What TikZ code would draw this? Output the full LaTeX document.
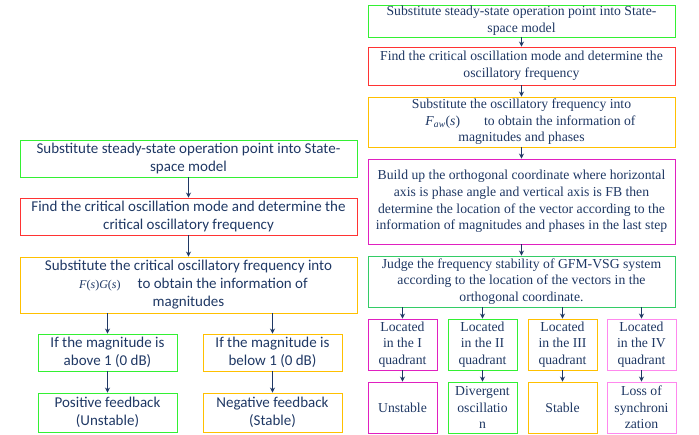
\documentclass[tikz,border=0pt]{standalone}
\usepackage{fontspec}
\setmainfont{Liberation Serif}
\newfontfamily\calib{Carlito}
\newfontfamily\tnr{Liberation Serif}
\usetikzlibrary{arrows.meta}
\definecolor{navy}{HTML}{1F3864}
\definecolor{cgreen}{HTML}{33F033}
\definecolor{cred}{HTML}{FF3333}
\definecolor{camber}{HTML}{FFC000}
\definecolor{cmag}{HTML}{E020C0}
\definecolor{cteal}{HTML}{33CC66}
\definecolor{cpink}{HTML}{FF88EE}
\tikzset{
  lbox/.style={draw, line width=0.9pt, rectangle, align=center, inner sep=0pt,
    text=navy, font=\calib\fontsize{15}{18}\selectfont},
  rbox/.style={draw, line width=0.9pt, rectangle, align=center, inner sep=0pt,
    text=navy, font=\tnr\fontsize{13.7}{16.6}\selectfont},
  arr/.style={draw=navy, line width=0.9pt, -{Stealth[length=5pt,width=5pt]}},
}
\begin{document}
\begin{tikzpicture}[x=1pt,y=-1pt]
\useasboundingbox (0,0) rectangle (699,434);
% left column
\node[lbox, draw=cgreen, minimum width=337pt, minimum height=37pt] (L1) at (188.5,158.5)
  {Substitute steady-state operation point into State-\\space model};
\node[lbox, draw=cred, minimum width=337pt, minimum height=37pt] (L2) at (188.5,216.5)
  {Find the critical oscillation mode and determine the\\critical oscillatory frequency};
\node[lbox, draw=camber, minimum width=337pt, minimum height=56pt] (L3) at (188.5,285)
  {Substitute the critical oscillatory frequency into\\\hspace*{10pt}{\tnr\fontsize{12}{16}\selectfont\textit{F}(\textit{s})\textit{G}(\textit{s})}\hspace{17pt}to obtain the information of\\magnitudes};
\node[lbox, draw=cgreen, minimum width=139pt, minimum height=37pt] (L4a) at (107.5,352.5)
  {If the magnitude is\\above 1 (0 dB)};
\node[lbox, draw=camber, minimum width=139pt, minimum height=37pt] (L4b) at (272.5,352.5)
  {If the magnitude is\\below 1 (0 dB)};
\node[lbox, draw=cgreen, minimum width=139pt, minimum height=39pt] (L5a) at (107.5,412.5)
  {Positive feedback\\(Unstable)};
\node[lbox, draw=camber, minimum width=139pt, minimum height=39pt] (L5b) at (272.5,412.5)
  {Negative feedback\\(Stable)};
\draw[arr] (L1) -- (L2);
\draw[arr] (L2) -- (L3);
\draw[arr] (L3.south -| L4a) -- (L4a);
\draw[arr] (L3.south -| L4b) -- (L4b);
\draw[arr] (L4a) -- (L5a);
\draw[arr] (L4b) -- (L5b);
% right column
\node[rbox, draw=cgreen, minimum width=307pt, minimum height=32pt] (R1) at (521.5,21)
  {Substitute steady-state operation point into State-\\space model};
\node[rbox, draw=cred, minimum width=307pt, minimum height=38pt] (R2) at (521.5,66)
  {Find the critical oscillation mode and determine the\\oscillatory frequency};
\node[rbox, draw=camber, minimum width=307pt, minimum height=50pt] (R3) at (521.5,122)
  {Substitute the oscillatory frequency into\\\hspace*{18pt}\textit{F}\textsubscript{\textit{aw}}(\textit{s})\hspace{24pt}to obtain the information of\\magnitudes and phases};
\node[rbox, draw=cmag, minimum width=307pt, minimum height=85pt] (R4) at (521.5,201.5)
  {Build up the orthogonal coordinate where horizontal\\axis is phase angle and vertical axis is FB then\\determine the location of the vector according to the\\information of magnitudes and phases in the last step};
\node[rbox, draw=cteal, minimum width=307pt, minimum height=51pt] (R5) at (521.5,281.5)
  {Judge the frequency stability of GFM-VSG system\\according to the location of the vectors in the\\orthogonal coordinate.};
\node[rbox, draw=cmag, minimum width=69pt, minimum height=51pt] (R6a) at (402.5,344.5)
  {Located\\in the I\\quadrant};
\node[rbox, draw=cgreen, minimum width=69pt, minimum height=51pt] (R6b) at (482.5,344.5)
  {Located\\in the II\\quadrant};
\node[rbox, draw=camber, minimum width=69pt, minimum height=51pt] (R6c) at (562.5,344.5)
  {Located\\in the III\\quadrant};
\node[rbox, draw=cpink, minimum width=69pt, minimum height=51pt] (R6d) at (641.5,344.5)
  {Located\\in the IV\\quadrant};
\node[rbox, draw=cmag, minimum width=69pt, minimum height=51pt] (R7a) at (402.5,407.5)
  {Unstable};
\node[rbox, draw=cgreen, minimum width=69pt, minimum height=51pt] (R7b) at (482.5,407.5)
  {Divergent\\oscillatio\\n};
\node[rbox, draw=camber, minimum width=69pt, minimum height=51pt] (R7c) at (562.5,407.5)
  {Stable};
\node[rbox, draw=cpink, minimum width=69pt, minimum height=51pt] (R7d) at (641.5,407.5)
  {Loss of\\synchroni\\zation};
\draw[arr] (R1) -- (R2);
\draw[arr] (R2) -- (R3);
\draw[arr] (R3) -- (R4);
\draw[arr] (R4) -- (R5);
\foreach \n in {a,b,c,d}{
  \draw[arr] (R5.south -| R6\n) -- (R6\n);
  \draw[arr] (R6\n) -- (R7\n);
}
\end{tikzpicture}
\end{document}
